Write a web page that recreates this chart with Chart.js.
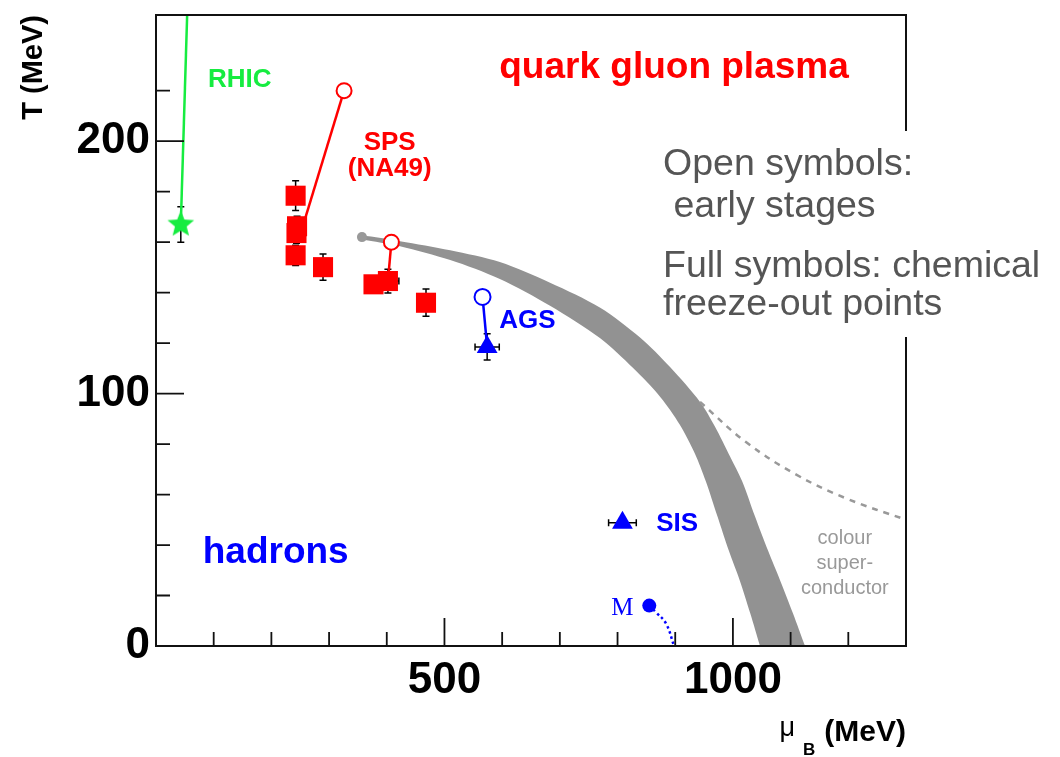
<!DOCTYPE html>
<html>
<head>
<meta charset="utf-8">
<title>QCD phase diagram</title>
<script src="https://cdn.jsdelivr.net/npm/chart.js@4.4.1/dist/chart.umd.min.js"></script>
<style>
    html, body { margin: 0; padding: 0; background: #fff; }
    #wrap { width: 1060px; height: 757px; }
</style>
</head>
<body>
<div id="wrap"><canvas id="phaseChart" width="1060" height="757"></canvas></div>
<script>

// ---- data: temperature T vs baryon chemical potential mu_B, both in MeV ----

// RHIC freeze-out point and its early-stage line (leaves the top of the frame)
const rhicMu = [43];
const rhicT = [167];
const rhicErrT = [7];
const rhicLineMu = [43, 54];
const rhicLineT = [167, 250];

// SPS (NA49) chemical freeze-out points
const spsMu = [242, 244.5, 243.5, 242, 289.5, 377, 402, 468];
const spsT = [178.4, 166.3, 163.6, 154.8, 150.1, 143.3, 144.6, 136];
const spsErrT = [5.9, 4, 4, 4, 5.2, 3, 4.7, 5.4];
const spsErrMu = [0, 0, 0, 0, 0, 0, 19, 0];
// SPS early stages (open circles) and the lines joining them
const spsOpenMu = [326, 408];
const spsOpenT = [220, 160];
const spsLineAMu = [254, 326];
const spsLineAT = [166, 220];
const spsLineBMu = [402, 408];
const spsLineBT = [144.6, 160];

// AGS
const agsOpenMu = [566];
const agsOpenT = [138.3];
const agsMu = [574];
const agsT = [118.5];
const agsErrT = [5.2];
const agsErrMu = [21];

// SIS
const sisMu = [808.5];
const sisT = [48.8];
const sisErrMu = [24];

// nuclear matter point M and its dotted continuation
const mMu = [855];
const mT = [16];
const mCurveMu = [855, 866, 884, 898];
const mCurveT = [16, 13.5, 8.9, 0];

// phase boundary band, outer and inner edge (run a little below T = 0, clipped)
const bandUpMu = [357, 423, 510, 596, 683, 770, 839, 891, 943, 969, 995, 1016, 1038, 1061, 1082, 1104, 1125, 1134];
const bandUpT = [162.7, 160.4, 156.8, 152.1, 143.9, 134, 122.2, 110.5, 96.7, 86.9, 75.1, 65.3, 51.5, 37.7, 25.9, 13, 0, -5.5];
const bandLoMu = [357, 423, 510, 596, 683, 770, 827, 874, 908, 934, 953, 973, 993, 1012, 1030, 1047, 1054];
const bandLoT = [161.1, 158.4, 152.9, 145.4, 134.8, 121.9, 110.1, 98.7, 87.7, 76.3, 65.3, 51.5, 37.7, 25.9, 13, 0, -5.5];
const bandStartMu = [357];
const bandStartT = [162];

// colour superconductor boundary (dashed)
const cscMu = [943, 1022, 1109, 1196, 1300];
const cscT = [96.7, 80.9, 68, 58.5, 50];

// tick labels
const xTickLabels = [500, 1000];
const yTickLabels = [0, 100, 200];

const RED = '#ff0000';
const BLUE = '#0000ff';
const GREEN = '#16ec40';
const BAND = '#929292';
const HELV = '"Liberation Sans", Arial, Helvetica, sans-serif';

function pts(mu, t) {
    return mu.map((m, i) => ({ x: m, y: t[i] }));
}

// filled five pointed star used as marker
function makeStar(r, color) {
    const c = document.createElement('canvas');
    c.width = c.height = 2 * r + 2;
    const g = c.getContext('2d');
    g.fillStyle = color;
    g.beginPath();
    for (let i = 0; i < 10; i++) {
        const a = -Math.PI / 2 + i * Math.PI / 5;
        const rr = i % 2 ? r * 0.44 : r;
        g.lineTo(r + 1 + rr * Math.cos(a), r + 1 + rr * Math.sin(a));
    }
    g.closePath();
    g.fill();
    return c;
}

function lineSet(mu, t, color, extra) {
    return Object.assign({
        data: pts(mu, t),
        showLine: true,
        borderColor: color,
        borderWidth: 2.5,
        pointRadius: 0,
        tension: 0,
        fill: false
    }, extra || {});
}

// band polygon: outer edge downwards, inner edge back up
const bandPoly = pts(bandUpMu, bandUpT).concat(pts(bandLoMu, bandLoT).reverse());

// first dataset is drawn on top
const datasets = [
    { data: pts(rhicMu, rhicT), pointStyle: makeStar(14, GREEN), pointRadius: 14, errT: rhicErrT },
    { data: pts(spsMu, spsT), pointStyle: 'rect', pointRadius: 14.2, backgroundColor: RED, borderWidth: 0, errT: spsErrT, errMu: spsErrMu },
    { data: pts(spsOpenMu, spsOpenT), pointStyle: 'circle', pointRadius: 7.5, backgroundColor: '#fff', borderColor: RED, borderWidth: 2 },
    { data: pts(agsMu, agsT), pointStyle: 'triangle', pointRadius: 12, backgroundColor: BLUE, borderWidth: 0, errT: agsErrT, errMu: agsErrMu },
    { data: pts(agsOpenMu, agsOpenT), pointStyle: 'circle', pointRadius: 8, backgroundColor: '#fff', borderColor: BLUE, borderWidth: 2 },
    { data: pts(sisMu, sisT), pointStyle: 'triangle', pointRadius: 12, backgroundColor: BLUE, borderWidth: 0, errMu: sisErrMu },
    { data: pts(mMu, mT), pointStyle: 'circle', pointRadius: 7, backgroundColor: BLUE, borderWidth: 0 },
    { data: pts(bandStartMu, bandStartT), pointStyle: 'circle', pointRadius: 5, backgroundColor: '#999', borderWidth: 0 },
    lineSet(rhicLineMu, rhicLineT, GREEN),
    lineSet(spsLineAMu, spsLineAT, RED),
    lineSet(spsLineBMu, spsLineBT, RED),
    lineSet([agsOpenMu[0], agsMu[0]], [agsOpenT[0], agsT[0]], BLUE),
    lineSet(mCurveMu, mCurveT, BLUE, { borderDash: [2.5, 3], borderWidth: 2.5, tension: 0.4 }),
    lineSet(cscMu, cscT, '#999', { borderDash: [6, 6], borderWidth: 2.5, tension: 0.4 }),
    { data: bandPoly, showLine: true, pointRadius: 0, borderWidth: 0, borderColor: BAND, backgroundColor: BAND, fill: 'shape', tension: 0.3 }
];

// error bars drawn under the markers
const errorBars = {
    id: 'errorBars',
    beforeDatasetsDraw(chart) {
        const ctx = chart.ctx;
        const xs = chart.scales.x, ys = chart.scales.y;
        ctx.save();
        ctx.strokeStyle = '#000';
        ctx.lineWidth = 1.5;
        chart.data.datasets.forEach((ds) => {
            if (!ds.errT && !ds.errMu) return;
            ds.data.forEach((p, i) => {
                const px = xs.getPixelForValue(p.x), py = ys.getPixelForValue(p.y);
                const et = ds.errT ? ds.errT[i] : 0;
                const em = ds.errMu ? ds.errMu[i] : 0;
                ctx.beginPath();
                if (et) {
                    const y1 = ys.getPixelForValue(p.y + et), y2 = ys.getPixelForValue(p.y - et);
                    ctx.moveTo(px, y1); ctx.lineTo(px, y2);
                    ctx.moveTo(px - 3.5, y1); ctx.lineTo(px + 3.5, y1);
                    ctx.moveTo(px - 3.5, y2); ctx.lineTo(px + 3.5, y2);
                }
                if (em) {
                    const x1 = xs.getPixelForValue(p.x - em), x2 = xs.getPixelForValue(p.x + em);
                    ctx.moveTo(x1, py); ctx.lineTo(x2, py);
                    ctx.moveTo(x1, py - 3.5); ctx.lineTo(x1, py + 3.5);
                    ctx.moveTo(x2, py - 3.5); ctx.lineTo(x2, py + 3.5);
                }
                ctx.stroke();
            });
        });
        ctx.restore();
    }
};

// frame with inward ticks
const frameTicks = {
    id: 'frameTicks',
    afterDatasetsDraw(chart) {
        const ctx = chart.ctx;
        const a = chart.chartArea;
        const xs = chart.scales.x, ys = chart.scales.y;
        ctx.save();
        ctx.strokeStyle = '#111';
        ctx.lineWidth = 2;
        ctx.strokeRect(a.left, a.top, a.right - a.left, a.bottom - a.top);
        ctx.lineWidth = 1.8;
        ctx.beginPath();
        xs.ticks.forEach((t) => {
            if (t.value <= xs.min || t.value >= xs.max) return;
            const len = t.value % 500 === 0 ? 28 : 14;
            const px = xs.getPixelForValue(t.value);
            ctx.moveTo(px, a.bottom); ctx.lineTo(px, a.bottom - len);
        });
        ys.ticks.forEach((t) => {
            if (t.value <= ys.min || t.value >= ys.max) return;
            const len = t.value % 100 === 0 ? 28 : 14;
            const py = ys.getPixelForValue(t.value);
            ctx.moveTo(a.left, py); ctx.lineTo(a.left + len, py);
        });
        ctx.stroke();
        ctx.restore();
    }
};

// region labels, placed in data coordinates
const notes = [
    { text: 'RHIC', mu: 90, t: 221.6, color: GREEN, font: 'bold 26px ' + HELV, align: 'left' },
    { text: 'quark gluon plasma', mu: 595, t: 225, color: RED, font: 'bold 37px ' + HELV, align: 'left' },
    { text: 'SPS', mu: 405, t: 196.6, color: RED, font: 'bold 26px ' + HELV, align: 'center' },
    { text: '(NA49)', mu: 405, t: 186.2, color: RED, font: 'bold 26px ' + HELV, align: 'center' },
    { text: 'AGS', mu: 595, t: 126, color: BLUE, font: 'bold 26px ' + HELV, align: 'left' },
    { text: 'SIS', mu: 867, t: 45.6, color: BLUE, font: 'bold 26px ' + HELV, align: 'left' },
    { text: 'hadrons', mu: 81, t: 33, color: BLUE, font: 'bold 37px ' + HELV, align: 'left' },
    { text: 'M', mu: 789, t: 12.2, color: BLUE, font: '25px "Liberation Serif", "Times New Roman", serif', align: 'left' },
    { text: 'colour', mu: 1194, t: 40.5, color: '#999', font: '20px ' + HELV, align: 'center' },
    { text: 'super-', mu: 1194, t: 30.6, color: '#999', font: '20px ' + HELV, align: 'center' },
    { text: 'conductor', mu: 1194, t: 20.8, color: '#999', font: '20px ' + HELV, align: 'center' }
];

const legendLines = [
    { text: 'Open symbols:', x: 663, y: 175 },
    { text: ' early stages', x: 663, y: 217 },
    { text: 'Full symbols: chemical', x: 663, y: 277 },
    { text: 'freeze-out points', x: 663, y: 315 }
];

const textLayer = {
    id: 'textLayer',
    afterDraw(chart) {
        const ctx = chart.ctx;
        const xs = chart.scales.x, ys = chart.scales.y;
        ctx.save();
        ctx.textBaseline = 'alphabetic';
        notes.forEach((n) => {
            ctx.font = n.font;
            ctx.fillStyle = n.color;
            ctx.textAlign = n.align;
            ctx.fillText(n.text, xs.getPixelForValue(n.mu), ys.getPixelForValue(n.t));
        });

        // y axis title, rotated, flush with the top of the frame
        ctx.save();
        ctx.translate(42, chart.chartArea.top);
        ctx.rotate(-Math.PI / 2);
        ctx.font = 'bold 29px ' + HELV;
        ctx.fillStyle = '#000';
        ctx.textAlign = 'right';
        ctx.fillText('T (MeV)', 0, 0);
        ctx.restore();

        // x axis title: mu with subscript B
        const right = chart.chartArea.right;
        ctx.fillStyle = '#000';
        ctx.textAlign = 'right';
        ctx.font = 'bold 30px ' + HELV;
        ctx.fillText('(MeV)', right, 741);
        let xr = right - ctx.measureText('(MeV)').width - 9;
        ctx.font = 'bold 17px ' + HELV;
        ctx.fillText('B', xr, 755);
        xr -= ctx.measureText('B').width + 8;
        ctx.font = '27px ' + HELV;
        ctx.fillText('\u03bc', xr, 736);

        // note box, white background over the frame
        ctx.fillStyle = '#fff';
        ctx.fillRect(652, 131, 408, 206);
        ctx.fillStyle = '#555';
        ctx.textAlign = 'left';
        ctx.font = '37.5px ' + HELV;
        legendLines.forEach((l) => ctx.fillText(l.text, l.x, l.y));
        ctx.restore();
    }
};

// drop the half-label padding Chart.js reserves at the axis ends
function fixPadding(s) {
    s.paddingTop = 0;
    s.paddingBottom = 0;
    s.paddingLeft = 0;
    s.paddingRight = 0;
}

const ctx = document.getElementById('phaseChart').getContext('2d');
const phaseChart = new Chart(ctx, {
    type: 'scatter',
    data: { datasets: datasets },
    options: {
        responsive: false,
        animation: false,
        events: [],
        layout: { padding: { left: 0, right: 154, top: 10, bottom: 0 } },
        plugins: { legend: { display: false }, tooltip: { enabled: false } },
        scales: {
            x: {
                type: 'linear',
                min: 0,
                max: 1300,
                afterFit: (s) => { s.height = 111; fixPadding(s); },
                grid: { display: false, drawTicks: false },
                border: { display: false },
                ticks: {
                    stepSize: 100,
                    autoSkip: false,
                    maxRotation: 0,
                    padding: 8,
                    color: '#000',
                    font: { family: HELV, weight: 'bold', size: 44 },
                    callback: (v) => xTickLabels.includes(v) ? String(v) : ''
                }
            },
            y: {
                type: 'linear',
                min: 0,
                max: 250,
                afterFit: (s) => { s.width = 156; fixPadding(s); },
                grid: { display: false, drawTicks: false },
                border: { display: false },
                ticks: {
                    stepSize: 20,
                    autoSkip: false,
                    padding: 6,
                    color: '#000',
                    font: { family: HELV, weight: 'bold', size: 44 },
                    callback: (v) => yTickLabels.includes(v) ? String(v) : ''
                }
            }
        }
    },
    plugins: [errorBars, frameTicks, textLayer]
});
</script>
</body>
</html>
